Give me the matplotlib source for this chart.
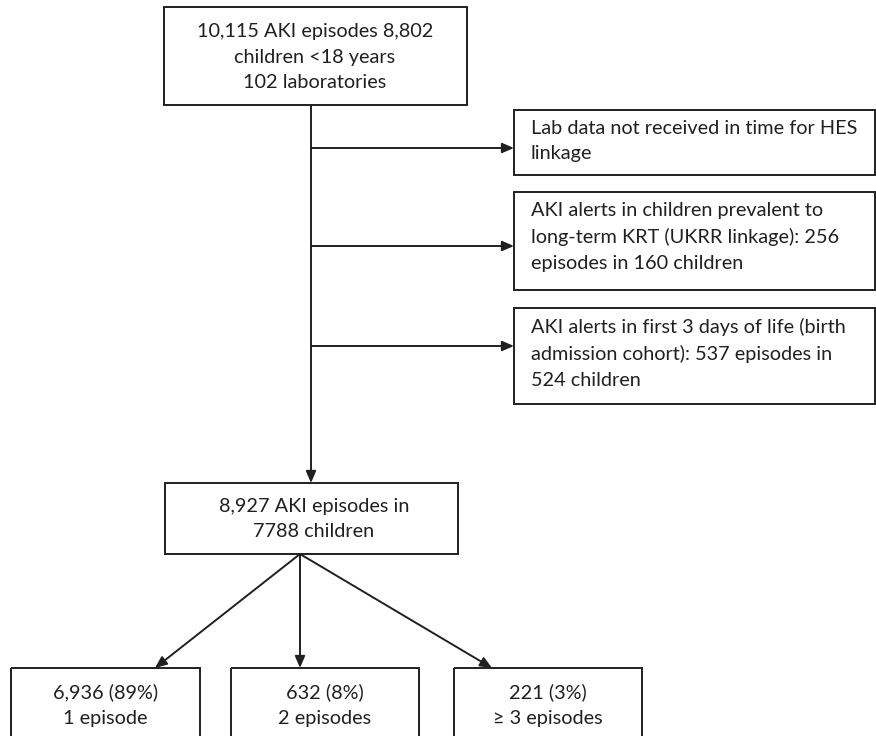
import matplotlib.pyplot as plt
from matplotlib.patches import Rectangle

plt.rcParams['font.family'] = ['Lato', 'DejaVu Sans']

# Texte des boîtes
top_text = "10,115 AKI episodes 8,802\nchildren <18 years\n102 laboratories"
excluded_texts = [
    "Lab data not received in time for HES\nlinkage",
    "AKI alerts in children prevalent to\nlong-term KRT (UKRR linkage): 256\nepisodes in 160 children",
    "AKI alerts in first 3 days of life (birth\nadmission cohort): 537 episodes in\n524 children",
]
middle_text = "8,927 AKI episodes in\n7788 children"
outcome_texts = ["6,936 (89%)\n1 episode", "632 (8%)\n2 episodes", "221 (3%)\n\u2265 3 episodes"]

# Mise en page (pixels)
W, H = 876, 736
ink = "#231f20"
lw = 1.4
fs = 14.3
line_gap = 1.6

fig = plt.figure(figsize=(W / 100, H / 100), dpi=100)
ax = fig.add_axes([0, 0, 1, 1])
ax.set_xlim(0, W)
ax.set_ylim(H, 0)
ax.axis('off')


def box(x0, y0, x1, y1):
    ax.add_patch(Rectangle((x0, y0), x1 - x0, y1 - y0, fill=False,
                           edgecolor=ink, linewidth=lw, zorder=2))


def arrow(x0, y0, x1, y1):
    ax.annotate("", xy=(x1, y1), xytext=(x0, y0),
                arrowprops=dict(arrowstyle='-|>,head_length=0.7,head_width=0.3',
                                color=ink, lw=lw, shrinkA=0, shrinkB=0))


# boîte du haut
box(164, 7, 467, 105)
ax.text(315, 57, top_text, ha='center', va='center', fontsize=fs,
        color=ink, linespacing=line_gap)

# tronc principal
trunk_x = 311
arrow(trunk_x, 105, trunk_x, 483)

# boîtes d'exclusion
side_boxes = [(110, 175), (192, 290), (308, 404)]
branch_y = [148, 246, 346]
for (y0, y1), by, txt in zip(side_boxes, branch_y, excluded_texts):
    box(514, y0, 875, y1)
    arrow(trunk_x, by, 514, by)
    ax.text(531, y0 + 10, txt, ha='left', va='top', fontsize=fs,
            color=ink, linespacing=line_gap)

# boîte du milieu
box(165, 483, 458, 554)
ax.text(314, 519, middle_text, ha='center', va='center', fontsize=fs,
        color=ink, linespacing=line_gap)

# boîtes du bas
bottom_boxes = [(11, 200), (231, 419), (454, 642)]
arrow_tips = [155, 300, 492]
for (x0, x1), tip, txt in zip(bottom_boxes, arrow_tips, outcome_texts):
    box(x0, 668, x1, 760)
    arrow(300, 554, tip, 668)
    ax.text((x0 + x1) / 2, 705, txt, ha='center', va='center', fontsize=fs,
            color=ink, linespacing=line_gap)

fig.savefig("out.png", dpi=100)
